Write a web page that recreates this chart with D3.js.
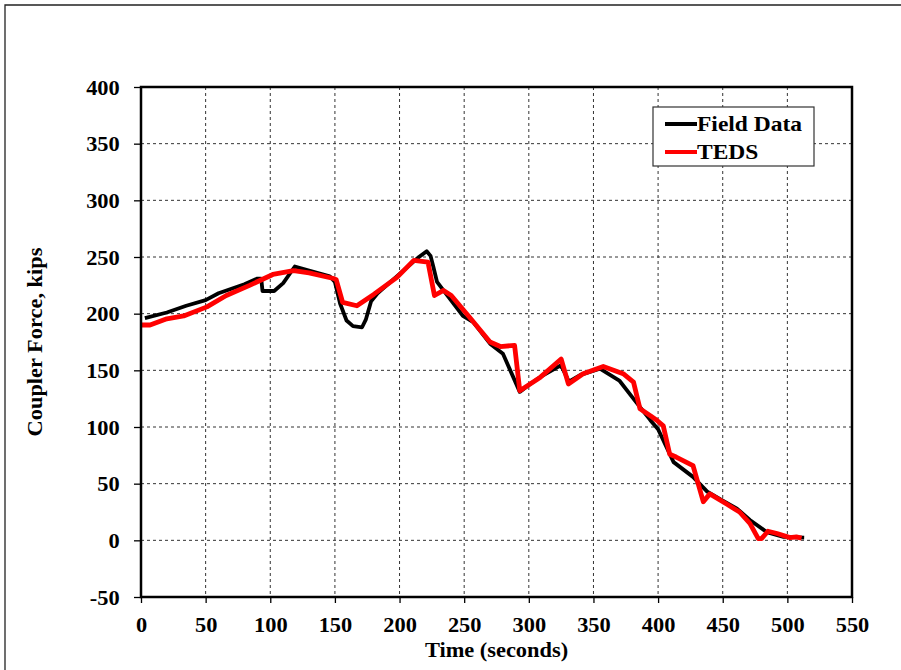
<!DOCTYPE html>
<html><head><meta charset="utf-8">
<script src="https://cdn.jsdelivr.net/npm/d3@7"></script>
<style>body{margin:0;background:#fff}svg{display:block}</style>
</head><body>
<svg id="c" width="901" height="670"></svg>
<script>
// ---- data ----
const fieldTime  = [3, 20, 35, 50, 60, 70, 80, 90, 93, 94, 103, 110, 119, 130, 146, 150, 154, 159, 164, 171, 174, 178, 183, 197, 210, 215, 221, 224, 226, 229, 235, 249, 257, 270, 280, 293, 300, 310, 324, 326, 331, 340, 355, 370, 383, 394, 400, 412, 427, 438, 450, 461, 471, 484, 497, 513];
const fieldForce = [196, 201, 207, 212, 218, 222, 226, 231, 231, 220, 220, 227, 241.6, 238, 233, 228, 209, 194, 189, 188, 195, 211, 218, 232, 245, 250, 255, 251, 242, 228, 219, 198, 192.5, 173.5, 164.6, 131, 137, 145, 154, 152, 140, 146, 151.4, 141, 122, 106, 98, 69, 56, 43, 35, 28, 18, 7.3, 3, 2.4];
const tedsTime  = [0, 7, 20, 33, 51, 66, 84, 102, 118, 130, 149, 151, 156, 167, 180, 198, 211, 222, 227, 234, 240, 254, 270, 278, 289, 293, 301, 309, 325, 330.6, 342, 357.6, 373, 381, 386, 394, 399, 404, 409, 414, 427, 435, 440, 453, 463, 471, 477.5, 480, 485, 492, 502, 507, 511];
const tedsForce = [190, 190, 195.5, 198, 206, 216, 225, 234.6, 238, 236, 231, 230, 210, 207, 217, 232, 247, 245.5, 216, 220.5, 216, 197, 175, 171, 172, 132, 138, 144, 160, 138, 147, 153.4, 147, 139.6, 116, 110, 106, 101, 76, 73.5, 66, 34, 41, 32, 25, 15, 1.5, 1.5, 8, 6, 2.4, 3, 2];
const xTicks = [0, 50, 100, 150, 200, 250, 300, 350, 400, 450, 500, 550];
const yTicks = [-50, 0, 50, 100, 150, 200, 250, 300, 350, 400];
const seriesNames = ["Field Data", "TEDS"];
const seriesColors = ["#000000", "#ff0000"];
const xTitle = "Time (seconds)";
const yTitle = "Coupler Force, kips";

// ---- layout ----
const L = 141, R = 852, T = 87, B = 597;
const FONT = "'Liberation Serif','Times New Roman',serif";
const STRETCH = 1.12;
const svg = d3.select("#c");
svg.append("rect").attr("width", 901).attr("height", 670).attr("fill", "#fff");

// outer frame (top and left edges visible)
svg.append("path").attr("d", "M5,670 L5,5 L901,5")
  .attr("fill", "none").attr("stroke", "#222").attr("stroke-width", 1.3);

const x = d3.scaleLinear().domain([0, 550]).range([L, R]);
const y = d3.scaleLinear().domain([-50, 400]).range([B, T]);

// grid
const grid = svg.append("g").attr("stroke", "#333").attr("stroke-width", 1).attr("stroke-dasharray", "3,3");
grid.selectAll("line.v").data(xTicks.filter(d => d > 0 && d < 550)).join("line")
  .attr("x1", d => x(d)).attr("x2", d => x(d)).attr("y1", T).attr("y2", B);
grid.selectAll("line.h").data(yTicks.filter(d => d > -50 && d < 400)).join("line")
  .attr("x1", L).attr("x2", R).attr("y1", d => y(d)).attr("y2", d => y(d));

// axes
const fmt = d => String(d);
const xAxis = svg.append("g").attr("transform", `translate(0,${B})`)
  .call(d3.axisBottom(x).tickValues(xTicks).tickSize(6).tickPadding(14).tickFormat(fmt));
const yAxis = svg.append("g").attr("transform", `translate(${L},0)`)
  .call(d3.axisLeft(y).tickValues(yTicks).tickSize(7).tickPadding(12).tickFormat(fmt));
[xAxis, yAxis].forEach(g => {
  g.select(".domain").remove();
  g.selectAll(".tick line").attr("stroke", "#000").attr("stroke-width", 1.3);
  g.selectAll(".tick text").attr("font-family", FONT).attr("font-size", 20)
    .attr("font-weight", "bold").attr("fill", "#000")
    .attr("transform", `scale(${STRETCH},1)`);
});
xAxis.selectAll(".tick text").attr("dy", "0.75em");
yAxis.selectAll(".tick text").attr("dy", "0.35em");

// lines
const line = d3.line().x(d => x(d[0])).y(d => y(d[1]));
const fieldPts = fieldTime.map((t, i) => [t, fieldForce[i]]);
const tedsPts = tedsTime.map((t, i) => [t, tedsForce[i]]);
svg.append("path").datum(fieldPts).attr("d", line).attr("fill", "none")
  .attr("stroke", seriesColors[0]).attr("stroke-width", 3.8).attr("stroke-linejoin", "round");
svg.append("path").datum(tedsPts).attr("d", line).attr("fill", "none")
  .attr("stroke", seriesColors[1]).attr("stroke-width", 4.8).attr("stroke-linejoin", "round");

// plot frame
svg.append("rect").attr("x", L).attr("y", T).attr("width", R - L).attr("height", B - T)
  .attr("fill", "none").attr("stroke", "#000").attr("stroke-width", 2.5);

// titles
svg.append("text").attr("transform", `translate(${(L + R) / 2 - 0},657) scale(${STRETCH},1)`)
  .attr("text-anchor", "middle").attr("font-family", FONT).attr("font-size", 20).attr("font-weight", "bold")
  .text(xTitle);
svg.append("text").attr("transform", `translate(42,${(T + B) / 2}) rotate(-90) scale(${STRETCH},1)`)
  .attr("text-anchor", "middle").attr("font-family", FONT).attr("font-size", 20).attr("font-weight", "bold")
  .text(yTitle);

// legend
const lg = svg.append("g").attr("transform", "translate(653,107)");
lg.append("rect").attr("width", 161).attr("height", 59).attr("fill", "#fff")
  .attr("stroke", "#333").attr("stroke-width", 1.2);
seriesNames.forEach((n, i) => {
  const yy = 17 + i * 28;
  lg.append("line").attr("x1", 12).attr("x2", 44).attr("y1", yy).attr("y2", yy)
    .attr("stroke", seriesColors[i]).attr("stroke-width", 4);
  lg.append("text").attr("transform", `translate(44,${yy + 7}) scale(${STRETCH},1)`)
    .attr("font-family", FONT).attr("font-size", 21).attr("font-weight", "bold").text(n);
});
</script>
</body></html>
